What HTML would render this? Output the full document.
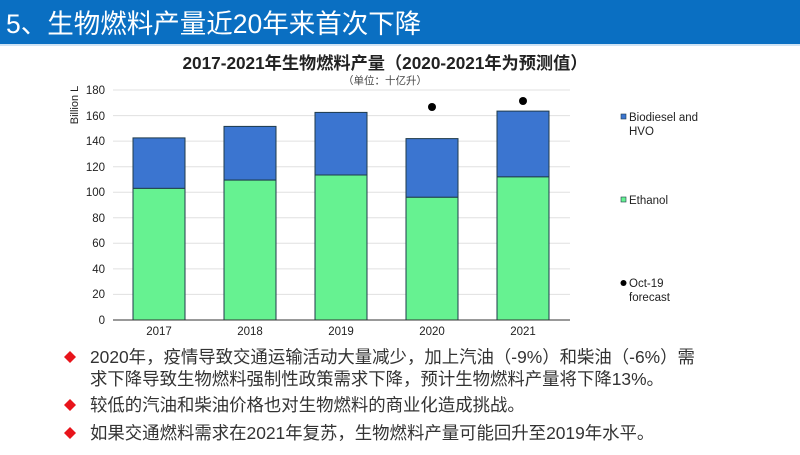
<!DOCTYPE html>
<html><head><meta charset="utf-8"><style>
body{margin:0;width:800px;height:450px;overflow:hidden;background:#fff;font-family:"Liberation Sans","Noto Sans CJK SC",sans-serif;}
</style></head><body>
<svg width="800" height="450" xmlns="http://www.w3.org/2000/svg" font-family="Liberation Sans, Noto Sans CJK SC, sans-serif">
<rect x="0" y="0" width="800" height="44" fill="#0a6fc2"/>
<rect x="0" y="44" width="800" height="2" fill="#cfe2f3"/>
<text x="6" y="33" font-size="26.5" fill="#fff">5、生物燃料产量近20年来首次下降</text>
<text x="385" y="69" font-size="17.2" font-weight="bold" fill="#222" text-anchor="middle">2017-2021年生物燃料产量（2020-2021年为预测值）</text>
<text x="385" y="84" font-size="10.5" fill="#444" text-anchor="middle">（单位：十亿升）</text>
<g stroke="#e0e0e0" stroke-width="1">
<line x1="113" x2="570" y1="90" y2="90"/><line x1="113" x2="570" y1="115.6" y2="115.6"/>
<line x1="113" x2="570" y1="141.1" y2="141.1"/><line x1="113" x2="570" y1="166.7" y2="166.7"/>
<line x1="113" x2="570" y1="192.2" y2="192.2"/><line x1="113" x2="570" y1="217.8" y2="217.8"/>
<line x1="113" x2="570" y1="243.3" y2="243.3"/><line x1="113" x2="570" y1="268.9" y2="268.9"/>
<line x1="113" x2="570" y1="294.4" y2="294.4"/>
</g>
<g font-size="11.5" fill="#222" text-anchor="end">
<text x="105" y="94">180</text><text x="105" y="120">160</text><text x="105" y="145">140</text>
<text x="105" y="171">120</text><text x="105" y="196">100</text><text x="105" y="222">80</text>
<text x="105" y="247">60</text><text x="105" y="273">40</text><text x="105" y="298">20</text><text x="105" y="324">0</text>
</g>
<text transform="translate(78,105) rotate(-90)" font-size="11" fill="#222" text-anchor="middle">Billion L</text>
<g stroke="#1f3a4a" stroke-width="1">
<rect x="133" y="137.9" width="52" height="50.5" fill="#3b75d0"/><rect x="133" y="188.4" width="52" height="131.6" fill="#66f291"/>
<rect x="224" y="126.4" width="52" height="53.7" fill="#3b75d0"/><rect x="224" y="180.1" width="52" height="139.9" fill="#66f291"/>
<rect x="315" y="112.4" width="52" height="62.6" fill="#3b75d0"/><rect x="315" y="175" width="52" height="145" fill="#66f291"/>
<rect x="406" y="138.6" width="52" height="58.7" fill="#3b75d0"/><rect x="406" y="197.3" width="52" height="122.7" fill="#66f291"/>
<rect x="497" y="111.1" width="52" height="65.8" fill="#3b75d0"/><rect x="497" y="176.9" width="52" height="143.1" fill="#66f291"/>
</g>
<line x1="113" x2="570" y1="320" y2="320" stroke="#333" stroke-width="1"/>
<circle cx="432" cy="107" r="4" fill="#000"/><circle cx="523" cy="101" r="4" fill="#000"/>
<g font-size="11.5" fill="#222" text-anchor="middle">
<text x="159" y="335">2017</text><text x="250" y="335">2018</text><text x="341" y="335">2019</text>
<text x="432" y="335">2020</text><text x="523" y="335">2021</text>
</g>
<rect x="621" y="114" width="5" height="5" fill="#3b75d0" stroke="#1f3a4a" stroke-width="0.6"/>
<text x="629" y="121" font-size="11.5" fill="#222">Biodiesel and</text>
<text x="629" y="135" font-size="11.5" fill="#222">HVO</text>
<rect x="621" y="197" width="5" height="5" fill="#66f291" stroke="#1f3a4a" stroke-width="0.6"/>
<text x="629" y="204" font-size="11.5" fill="#222">Ethanol</text>
<circle cx="623.5" cy="283" r="3" fill="#000"/>
<text x="629" y="287" font-size="11.5" fill="#222">Oct-19</text>
<text x="629" y="301" font-size="11.5" fill="#222">forecast</text>
<g fill="#e8141b">
<path d="M70 351 L76 357 L70 363 L64 357Z"/>
<path d="M70 399 L76 405 L70 411 L64 405Z"/>
<path d="M70 427 L76 433 L70 439 L64 433Z"/>
</g>
<g font-size="17.4" fill="#333">
<text x="90" y="363">2020年，疫情导致交通运输活动大量减少，加上汽油（-9%）和柴油（-6%）需</text>
<text x="90" y="385">求下降导致生物燃料强制性政策需求下降，预计生物燃料产量将下降13%。</text>
<text x="90" y="411">较低的汽油和柴油价格也对生物燃料的商业化造成挑战。</text>
<text x="90" y="439">如果交通燃料需求在2021年复苏，生物燃料产量可能回升至2019年水平。</text>
</g>
</svg>
</body></html>
